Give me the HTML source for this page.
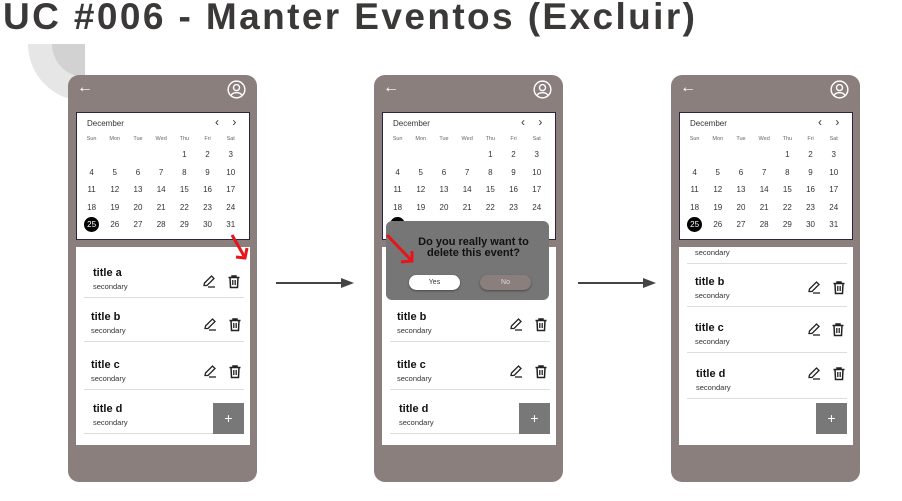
<!DOCTYPE html>
<html><head><meta charset="utf-8"><style>
*{margin:0;padding:0;box-sizing:border-box}
body{width:902px;height:501px;background:#fff;position:relative;overflow:hidden;font-family:"Liberation Sans",sans-serif}
.h1{position:absolute;left:3px;top:-4px;font-size:37px;font-weight:bold;color:#3b3838;white-space:nowrap;letter-spacing:2.4px}
.deco{position:absolute;left:28px;top:44px;width:57px;height:57px;overflow:hidden}
.deco .o{position:absolute;left:0;top:-57px;width:114px;height:114px;border-radius:50%;background:#e6e6e6}
.deco .i{position:absolute;left:24px;top:-33px;width:66px;height:66px;border-radius:50%;background:#d2d2d2}
.ph{position:absolute;top:75px;width:189px;height:407px;background:#8b7f7e;border-radius:11px}
.back{position:absolute;left:9px;top:4px;color:#fff;font-size:16px}
.user{position:absolute;left:159px;top:5px;width:19px;height:19px}
.cal{position:absolute;left:8px;top:37px;width:174px;height:128px;background:#fff;border:1.5px solid #2d2540}
.mon{position:absolute;left:10px;top:6px;font-size:8px;color:#333}
.chev{position:absolute;left:138px;top:2px;font-size:12px;color:#333;letter-spacing:5px}
.g{position:absolute;left:3px;top:18.5px;display:grid;grid-template-columns:repeat(7,23.2px);grid-template-rows:14.5px repeat(5,17.5px);font-size:8px;color:#333;text-align:center;align-items:center}
.g .w{font-size:5.5px;color:#666;align-self:start;margin-top:4px}
.sel{display:inline-block;width:15px;height:15px;border-radius:50%;background:#000;color:#fff;line-height:15px;margin:auto}
.list{position:absolute;left:8px;top:172px;width:174px;height:198px;background:#fff;overflow:hidden}
.t{position:absolute;font-size:11px;font-weight:bold;color:#111}
.s{position:absolute;font-size:7.5px;color:#333}
.d{position:absolute;left:8px;width:160px;height:1px;background:#ddd}
.ic{position:absolute;width:14px;height:15px}
.plus{position:absolute;width:31px;height:31px;background:#787878;color:#fff;font-size:14px;text-align:center;line-height:30px}
.arr{position:absolute;top:282px;height:2px;background:#444}
.arr:after{content:"";position:absolute;right:-12px;top:-4px;border-left:13px solid #444;border-top:5px solid transparent;border-bottom:5px solid transparent}
.dlg{position:absolute;left:12px;top:146px;width:163px;height:79px;background:#767676;border-radius:6px}
.dlg .q{position:absolute;left:0;top:16px;width:100%;text-align:center;font-size:11px;font-weight:bold;color:#111;line-height:11px;padding-left:12px}
.btn{position:absolute;top:54px;width:51px;height:15px;border-radius:8px;font-size:7px;text-align:center;line-height:15px;box-shadow:0 1px 2px rgba(0,0,0,.4)}
</style></head><body>
<div class="h1">UC #006 - Manter Eventos (Excluir)</div>
<div class="deco"><div class="o"></div><div class="i"></div></div>

<svg width="0" height="0" style="position:absolute"><defs>
<symbol id="pen" viewBox="0 0 14 14"><path d="M2 11 L2.5 8.5 L9.5 1.5 L12 4 L5 11 Z" fill="none" stroke="#222" stroke-width="1.3"/><path d="M6 12.5 H13" stroke="#222" stroke-width="1.3"/></symbol>
<symbol id="bin" viewBox="0 0 14 14"><path d="M1.5 3 H12.5 M5 3 V1.5 H9 V3 M3 3 L3.5 13 H10.5 L11 3" fill="none" stroke="#222" stroke-width="1.5"/><path d="M5.8 5.5 V10.5 M8.2 5.5 V10.5" stroke="#222" stroke-width="1.3"/></symbol>
<symbol id="usr" viewBox="0 0 20 20"><circle cx="10" cy="10" r="8.8" fill="none" stroke="#fff" stroke-width="1.5"/><circle cx="10" cy="8" r="3.2" fill="none" stroke="#fff" stroke-width="1.5"/><path d="M4.5 16 C6 12.5 14 12.5 15.5 16" fill="none" stroke="#fff" stroke-width="1.5"/></symbol>
</defs></svg>

<!-- PHONE 1 -->
<div class="ph" style="left:68px">
<div class="back">←</div><svg class="user"><use href="#usr"/></svg>
<div class="cal"><div class="mon">December</div><div class="chev">‹ ›</div>
<div class="g"><span class="w">Sun</span><span class="w">Mon</span><span class="w">Tue</span><span class="w">Wed</span><span class="w">Thu</span><span class="w">Fri</span><span class="w">Sat</span>
<span></span><span></span><span></span><span></span><span>1</span><span>2</span><span>3</span>
<span>4</span><span>5</span><span>6</span><span>7</span><span>8</span><span>9</span><span>10</span>
<span>11</span><span>12</span><span>13</span><span>14</span><span>15</span><span>16</span><span>17</span>
<span>18</span><span>19</span><span>20</span><span>21</span><span>22</span><span>23</span><span>24</span>
<span><span class="sel">25</span></span><span>26</span><span>27</span><span>28</span><span>29</span><span>30</span><span>31</span></div></div>
<div class="list" style="left:8px;top:172px">
<div class="t" style="left:17px;top:20px">title a</div><div class="s" style="left:17px;top:35px">secondary</div><div class="d" style="top:50px"></div>
<div class="t" style="left:15px;top:64px">title b</div><div class="s" style="left:15px;top:79px">secondary</div><div class="d" style="top:94px"></div>
<div class="t" style="left:15px;top:112px">title c</div><div class="s" style="left:15px;top:127px">secondary</div><div class="d" style="top:142px"></div>
<div class="t" style="left:17px;top:156px">title d</div><div class="s" style="left:17px;top:171px">secondary</div><div class="d" style="top:186px"></div>
<svg class="ic" style="left:126px;top:27px"><use href="#pen"/></svg><svg class="ic" style="left:151px;top:27px"><use href="#bin"/></svg>
<svg class="ic" style="left:127px;top:70px"><use href="#pen"/></svg><svg class="ic" style="left:152px;top:70px"><use href="#bin"/></svg>
<svg class="ic" style="left:127px;top:117px"><use href="#pen"/></svg><svg class="ic" style="left:152px;top:117px"><use href="#bin"/></svg>
<div class="plus" style="left:137px;top:156px">+</div>
</div></div>

<!-- PHONE 2 -->
<div class="ph" style="left:374px">
<div class="back">←</div><svg class="user"><use href="#usr"/></svg>
<div class="cal"><div class="mon">December</div><div class="chev">‹ ›</div>
<div class="g"><span class="w">Sun</span><span class="w">Mon</span><span class="w">Tue</span><span class="w">Wed</span><span class="w">Thu</span><span class="w">Fri</span><span class="w">Sat</span>
<span></span><span></span><span></span><span></span><span>1</span><span>2</span><span>3</span>
<span>4</span><span>5</span><span>6</span><span>7</span><span>8</span><span>9</span><span>10</span>
<span>11</span><span>12</span><span>13</span><span>14</span><span>15</span><span>16</span><span>17</span>
<span>18</span><span>19</span><span>20</span><span>21</span><span>22</span><span>23</span><span>24</span>
<span><span class="sel">25</span></span><span>26</span><span>27</span><span>28</span><span>29</span><span>30</span><span>31</span></div></div>
<div class="list">
<div class="t" style="left:15px;top:64px">title b</div><div class="s" style="left:15px;top:79px">secondary</div><div class="d" style="top:94px"></div>
<div class="t" style="left:15px;top:112px">title c</div><div class="s" style="left:15px;top:127px">secondary</div><div class="d" style="top:142px"></div>
<div class="t" style="left:17px;top:156px">title d</div><div class="s" style="left:17px;top:171px">secondary</div><div class="d" style="top:186px"></div>
<svg class="ic" style="left:127px;top:70px"><use href="#pen"/></svg><svg class="ic" style="left:152px;top:70px"><use href="#bin"/></svg>
<svg class="ic" style="left:127px;top:117px"><use href="#pen"/></svg><svg class="ic" style="left:152px;top:117px"><use href="#bin"/></svg>
<div class="plus" style="left:137px;top:156px">+</div>
</div>
<div class="dlg"><div class="q">Do you really want to<br>delete this event?</div>
<div class="btn" style="left:23px;background:#fff;color:#333">Yes</div>
<div class="btn" style="left:94px;background:#8b7f7e;color:#ddd">No</div></div>
</div>

<!-- PHONE 3 -->
<div class="ph" style="left:671px">
<div class="back">←</div><svg class="user"><use href="#usr"/></svg>
<div class="cal"><div class="mon">December</div><div class="chev">‹ ›</div>
<div class="g"><span class="w">Sun</span><span class="w">Mon</span><span class="w">Tue</span><span class="w">Wed</span><span class="w">Thu</span><span class="w">Fri</span><span class="w">Sat</span>
<span></span><span></span><span></span><span></span><span>1</span><span>2</span><span>3</span>
<span>4</span><span>5</span><span>6</span><span>7</span><span>8</span><span>9</span><span>10</span>
<span>11</span><span>12</span><span>13</span><span>14</span><span>15</span><span>16</span><span>17</span>
<span>18</span><span>19</span><span>20</span><span>21</span><span>22</span><span>23</span><span>24</span>
<span><span class="sel">25</span></span><span>26</span><span>27</span><span>28</span><span>29</span><span>30</span><span>31</span></div></div>
<div class="list">
<div class="s" style="left:16px;top:1px">secondary</div><div class="d" style="top:16px"></div>
<div class="t" style="left:16px;top:29px">title b</div><div class="s" style="left:16px;top:44px">secondary</div><div class="d" style="top:59px"></div>
<div class="t" style="left:16px;top:75px">title c</div><div class="s" style="left:16px;top:90px">secondary</div><div class="d" style="top:105px"></div>
<div class="t" style="left:17px;top:121px">title d</div><div class="s" style="left:17px;top:136px">secondary</div><div class="d" style="top:151px"></div>
<svg class="ic" style="left:128px;top:33px"><use href="#pen"/></svg><svg class="ic" style="left:153px;top:33px"><use href="#bin"/></svg>
<svg class="ic" style="left:128px;top:75px"><use href="#pen"/></svg><svg class="ic" style="left:152px;top:75px"><use href="#bin"/></svg>
<svg class="ic" style="left:128px;top:119px"><use href="#pen"/></svg><svg class="ic" style="left:153px;top:119px"><use href="#bin"/></svg>
<div class="plus" style="left:137px;top:156px">+</div>
</div></div>

<div class="arr" style="left:276px;width:66px"></div>
<div class="arr" style="left:578px;width:66px"></div>

<svg style="position:absolute;left:0;top:0" width="902" height="501">
<g stroke="#e8141a" stroke-width="3" fill="none">
<path d="M232 235 L244 256"/><path d="M236 257 L245 258 L247 248"/>
<path d="M387 235 L411 260"/><path d="M401 262 L412 261 L412 251"/>
</g></svg>
</body></html>
